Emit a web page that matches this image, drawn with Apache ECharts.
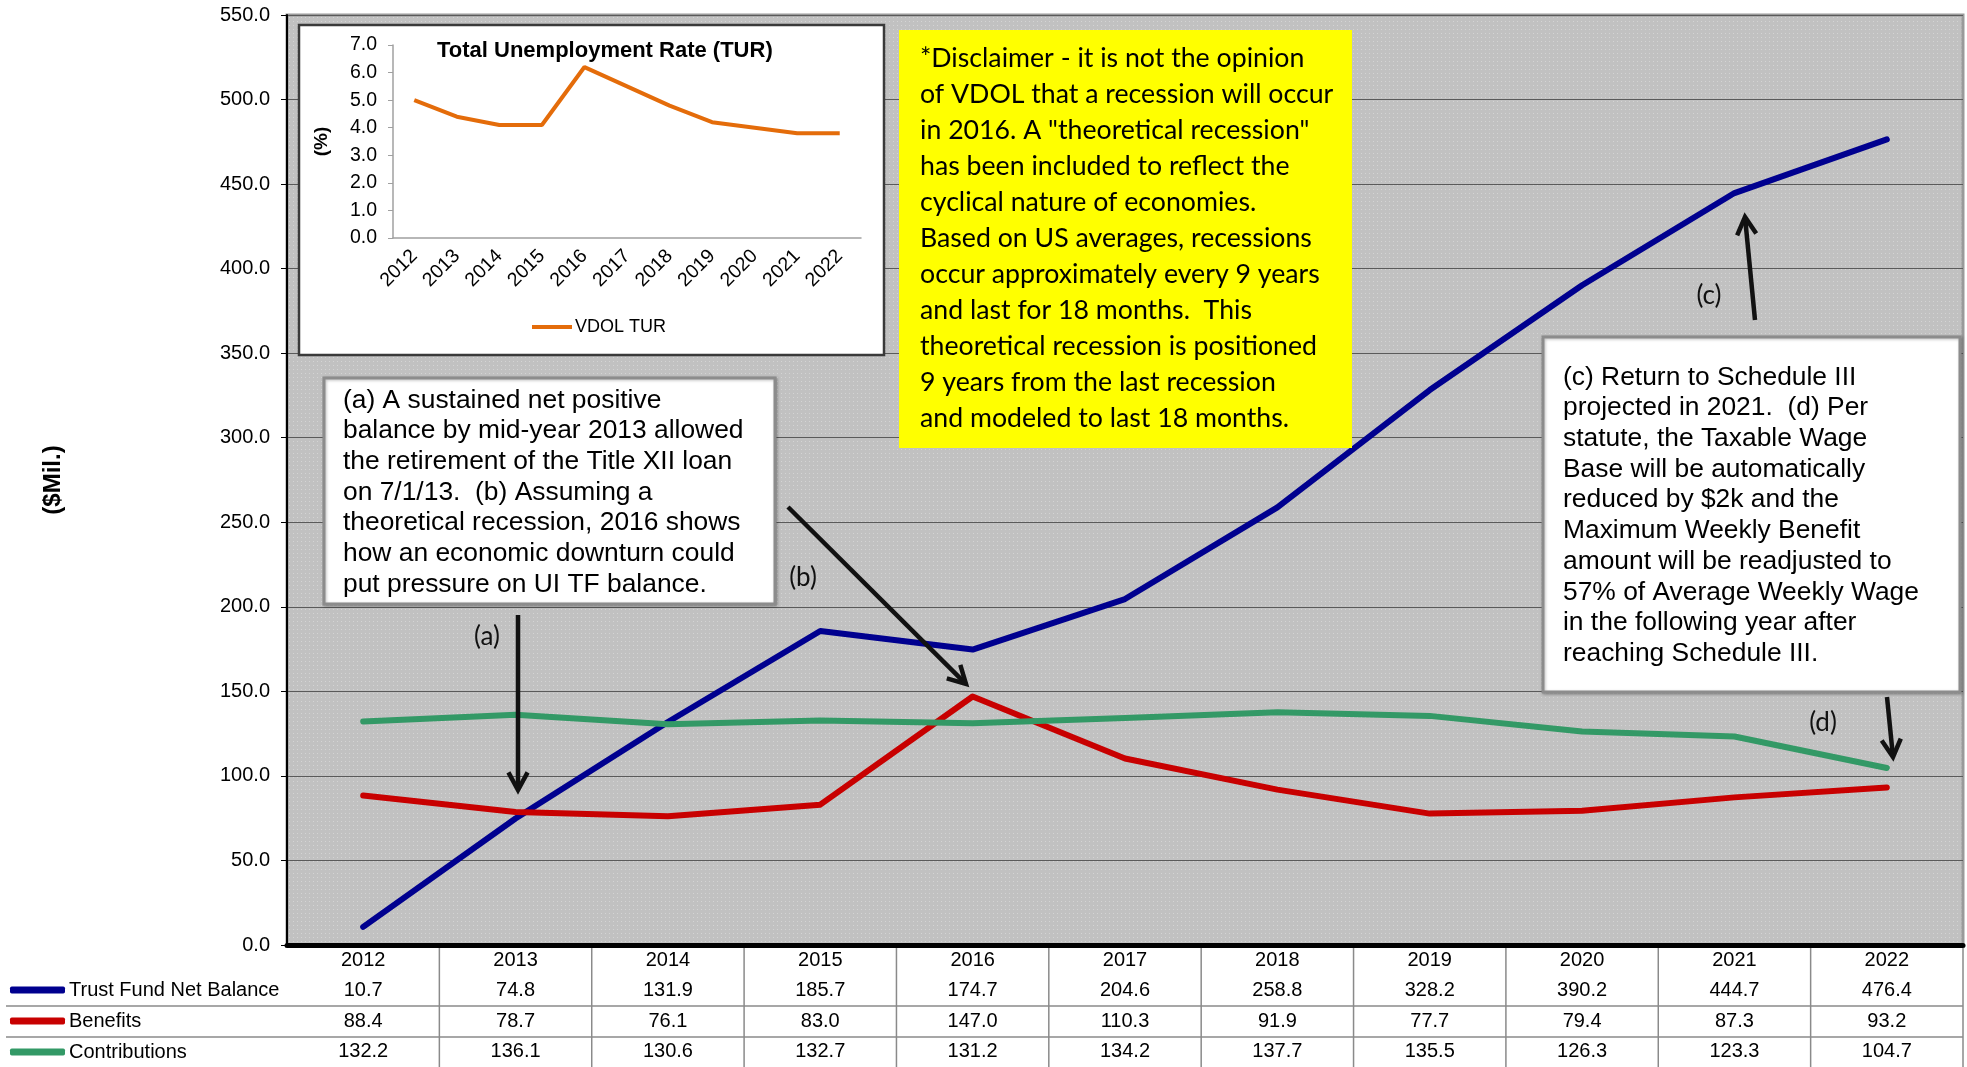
<!DOCTYPE html>
<html><head><meta charset="utf-8">
<script src="https://cdn.jsdelivr.net/npm/echarts@6/dist/echarts.min.js"></script>
<style>html,body{margin:0;padding:0;background:#fff}#c{width:1967px;height:1067px}</style>
</head><body><div id="c"></div>
<script>
const years = ['2012','2013','2014','2015','2016','2017','2018','2019','2020','2021','2022'];
const balance = [10.7, 74.8, 131.9, 185.7, 174.7, 204.6, 258.8, 328.2, 390.2, 444.7, 476.4];
const benefits = [88.4, 78.7, 76.1, 83.0, 147.0, 110.3, 91.9, 77.7, 79.4, 87.3, 93.2];
const contributions = [132.2, 136.1, 130.6, 132.7, 131.2, 134.2, 137.7, 135.5, 126.3, 123.3, 104.7];
const turValues = [5.0, 4.4, 4.1, 4.1, 6.2, 5.5, 4.8, 4.2, 4.0, 3.8, 3.8];
const seriesNames = ['Trust Fund Net Balance', 'Benefits', 'Contributions'];

const disclaimer = '*Disclaimer - it is not the opinion\nof VDOL that a recession will occur\nin 2016. A "theoretical recession"\nhas been included to reflect the\ncyclical nature of economies.\nBased on US averages, recessions\noccur approximately every 9 years\nand last for 18 months.  This\ntheoretical recession is positioned\n9 years from the last recession\nand modeled to last 18 months.';
const noteAB = '(a) A sustained net positive\nbalance by mid-year 2013 allowed\nthe retirement of the Title XII loan\non 7/1/13.  (b) Assuming a\ntheoretical recession, 2016 shows\nhow an economic downturn could\nput pressure on UI TF balance.';
const noteCD = '(c) Return to Schedule III\nprojected in 2021.  (d) Per\nstatute, the Taxable Wage\nBase will be automatically\nreduced by $2k and the\nMaximum Weekly Benefit\namount will be readjusted to\n57% of Average Weekly Wage\nin the following year after\nreaching Schedule III.';

const AR = '"Liberation Sans", Arial, sans-serif';
const CAL = 'Lato, "Open Sans", sans-serif';

const pc = document.createElement('canvas'); pc.width = 4; pc.height = 4;
const pg = pc.getContext('2d'); pg.fillStyle = '#c1c1c1'; pg.fillRect(0,0,4,4);
pg.fillStyle = '#d4d4d4'; pg.fillRect(1,1,1,1);

const chart = echarts.init(document.getElementById('c'));

chart.setOption({
  animation: false,
  backgroundColor: '#fff',
  textStyle: { fontFamily: AR },
  title: {
    text: 'Total Unemployment Rate (TUR)', left: 432, top: 35, z: 20,
    textStyle: { fontFamily: AR, fontSize: 22, fontWeight: 'bold', color: '#000' }
  },
  grid: [
    { left: 287, right: 4, top: 15, bottom: 121, show: true,
      backgroundColor: { image: pc, repeat: 'repeat' }, borderColor: '#9a9a9a', borderWidth: 3 },
    { left: 393, top: 45, width: 468, height: 193 }
  ],
  legend: [
    { data: seriesNames, orient: 'vertical', left: 10, top: 980, padding: 0, itemWidth: 55, itemHeight: 7,
      itemGap: 11, icon: 'roundRect', selectedMode: false,
      textStyle: { fontFamily: AR, fontSize: 20, color: '#000', lineHeight: 20, padding: [0,0,0,-1] } },
    { data: ['VDOL TUR'], left: 527, top: 313, itemWidth: 40, itemHeight: 4, icon: 'rect',
      selectedMode: false, z: 20,
      textStyle: { fontFamily: AR, fontSize: 18, color: '#000', padding: [0,0,0,-2] } }
  ],
  xAxis: [
    { type: 'category', gridIndex: 0, data: years, boundaryGap: true,
      axisLine: { lineStyle: { color: '#000', width: 5 } },
      axisTick: { show: false },
      axisLabel: { margin: 0, interval: 0, fontFamily: AR, fontSize: 20, lineHeight: 30.5, color: '#000',
        formatter: function (v, i) {
          return v + '\n' + balance[i].toFixed(1) + '\n' + benefits[i].toFixed(1) + '\n' + contributions[i].toFixed(1);
        } } },
    { type: 'category', gridIndex: 1, data: years, boundaryGap: true, z: 21,
      axisLine: { lineStyle: { color: '#a0a0a0', width: 1.5 } },
      axisTick: { show: false },
      axisLabel: { rotate: 45, interval: 0, margin: 15, fontFamily: AR, fontSize: 19.5, color: '#000' } }
  ],
  yAxis: [
    { type: 'value', gridIndex: 0, min: 0, max: 550, interval: 50,
      axisLine: { show: true, lineStyle: { color: '#000', width: 2 } },
      axisTick: { show: true, length: 6, lineStyle: { color: '#000' } },
      axisLabel: { margin: 17, fontFamily: AR, fontSize: 20, color: '#000', formatter: v => v.toFixed(1) },
      splitLine: { lineStyle: { color: '#5a5a5a', width: 1 } },
      name: '($Mil.)', nameLocation: 'middle', nameGap: 222, nameRotate: 90,
      nameTextStyle: { fontFamily: AR, fontSize: 24, fontWeight: 'bold', color: '#000' } },
    { type: 'value', gridIndex: 1, min: 0, max: 7, interval: 1, z: 21,
      axisLine: { show: true, lineStyle: { color: '#a0a0a0', width: 1.5 } },
      axisTick: { show: true, length: 5, lineStyle: { color: '#a0a0a0' } },
      axisLabel: { margin: 16, fontFamily: AR, fontSize: 19.5, color: '#000', formatter: v => v.toFixed(1) },
      splitLine: { show: false },
      name: '(%)', nameLocation: 'middle', nameGap: 62, nameRotate: 90,
      nameTextStyle: { fontFamily: AR, fontSize: 19, fontWeight: 'bold', color: '#000' } }
  ],
  series: [
    { name: seriesNames[0], type: 'line', data: balance, xAxisIndex: 0, yAxisIndex: 0, symbol: 'none', z: 3,
      itemStyle: { color: '#00008f' }, lineStyle: { color: '#00008f', width: 6, cap: 'round', join: 'round' } },
    { name: seriesNames[1], type: 'line', data: benefits, xAxisIndex: 0, yAxisIndex: 0, symbol: 'none', z: 3,
      itemStyle: { color: '#c80000' }, lineStyle: { color: '#c80000', width: 6, cap: 'round', join: 'round' } },
    { name: seriesNames[2], type: 'line', data: contributions, xAxisIndex: 0, yAxisIndex: 0, symbol: 'none', z: 3,
      itemStyle: { color: '#339966' }, lineStyle: { color: '#339966', width: 6, cap: 'round', join: 'round' } },
    { name: 'VDOL TUR', type: 'line', data: turValues, xAxisIndex: 1, yAxisIndex: 1, symbol: 'none', z: 22,
      itemStyle: { color: '#e46c0a' }, lineStyle: { color: '#e46c0a', width: 4 } }
  ]
});

function arrow(x1, y1, x2, y2) {
  const a = Math.atan2(y2 - y1, x2 - x1), L = 20, t = 0.5;
  const p1 = [x2 - L * Math.cos(a - t), y2 - L * Math.sin(a - t)];
  const p2 = [x2 - L * Math.cos(a + t), y2 - L * Math.sin(a + t)];
  return [
    { type: 'line', z: 30, shape: { x1: x1, y1: y1, x2: x2 - 2 * Math.cos(a), y2: y2 - 2 * Math.sin(a) },
      style: { stroke: '#111', lineWidth: 4.5 } },
    { type: 'polyline', z: 30, shape: { points: [p1, [x2, y2], p2] },
      style: { stroke: '#111', lineWidth: 4.5, fill: null, lineJoin: 'miter' } }
  ];
}
function label(txt, x, y) {
  return { type: 'text', z: 30, x: x, y: y,
    style: { text: txt, font: '26px ' + CAL, fill: '#111', align: 'center', verticalAlign: 'middle',
      textAlign: 'center', textVerticalAlign: 'middle' } };
}

const c0 = chart.convertToPixel({ xAxisIndex: 0 }, years[0]);
const c1 = chart.convertToPixel({ xAxisIndex: 0 }, years[1]);
const bw = c1 - c0;
const els = [];
for (let i = 0; i < years.length; i++) {
  const xb = chart.convertToPixel({ xAxisIndex: 0 }, years[i]) + bw / 2;
  els.push({ type: 'line', z: 5, shape: { x1: xb, y1: 948, x2: xb, y2: 1067 }, style: { stroke: '#8a8a8a', lineWidth: 1.5 } });
}
[1006, 1037].forEach(y => els.push({ type: 'line', z: 5, shape: { x1: 6, y1: y, x2: 1963, y2: y }, style: { stroke: '#8a8a8a', lineWidth: 1.5 } }));

els.push({ type: 'rect', z: 15, shape: { x: 299, y: 25, width: 585, height: 330 },
  style: { fill: '#fff', stroke: '#3a3a3a', lineWidth: 2.5 } });
els.push({ type: 'rect', z: 15, shape: { x: 899, y: 30, width: 453, height: 418 }, style: { fill: '#ffff00' } });
els.push({ type: 'text', z: 16, x: 920, y: 40,
  style: { text: disclaimer, font: '26.7px ' + CAL, fill: '#000', lineHeight: 36, align: 'left', verticalAlign: 'top',
    textAlign: 'left', textVerticalAlign: 'top' } });
els.push({ type: 'rect', z: 15, shape: { x: 324, y: 378, width: 451, height: 226 },
  style: { fill: '#fff', stroke: '#8c8c8c', lineWidth: 3, shadowColor: 'rgba(0,0,0,0.25)', shadowBlur: 3, shadowOffsetX: 1, shadowOffsetY: 1 } });
els.push({ type: 'text', z: 16, x: 343, y: 385,
  style: { text: noteAB, font: '26.4px ' + AR, fill: '#000', lineHeight: 30.7, align: 'left', verticalAlign: 'top',
    textAlign: 'left', textVerticalAlign: 'top' } });
els.push({ type: 'rect', z: 15, shape: { x: 1543, y: 337, width: 417, height: 355 },
  style: { fill: '#fff', stroke: '#8c8c8c', lineWidth: 3, shadowColor: 'rgba(0,0,0,0.25)', shadowBlur: 3, shadowOffsetX: 1, shadowOffsetY: 1 } });
els.push({ type: 'text', z: 16, x: 1563, y: 362,
  style: { text: noteCD, font: '26.4px ' + AR, fill: '#000', lineHeight: 30.7, align: 'left', verticalAlign: 'top',
    textAlign: 'left', textVerticalAlign: 'top' } });
Array.prototype.push.apply(els, arrow(518, 615, 518, 790));
Array.prototype.push.apply(els, arrow(788, 507, 966, 684));
Array.prototype.push.apply(els, arrow(1755, 320, 1745, 217));
Array.prototype.push.apply(els, arrow(1887, 697, 1893, 757));
els.push(label('(a)', 487, 637));
els.push(label('(b)', 803, 578));
els.push(label('(c)', 1709, 296));
els.push(label('(d)', 1823, 723));

chart.setOption({ graphic: { elements: els } });
</script></body></html>
